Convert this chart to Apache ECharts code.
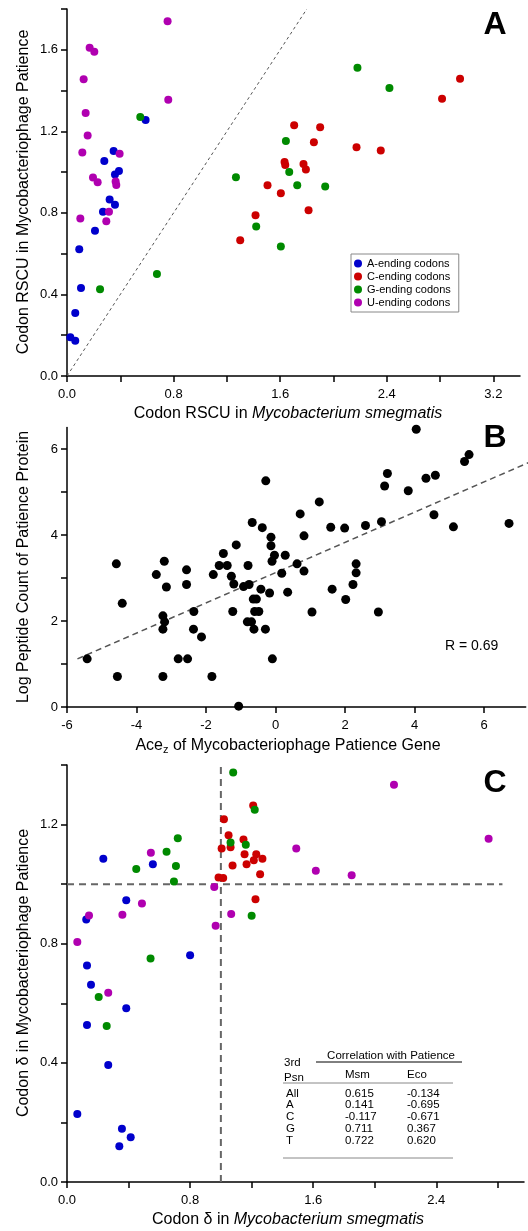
<!DOCTYPE html>
<html><head><meta charset="utf-8">
<script src="https://cdn.jsdelivr.net/npm/echarts@6/dist/echarts.min.js"></script>
<style>html,body{margin:0;padding:0;background:#fff}#c{width:528px;height:1231px}</style>
</head><body><div id="c"></div>
<script>
// ---------- Panel A: RSCU ----------
var rscuA = [[0.59,1.255],[0.35,1.104],[0.28,1.054],[0.39,1.006],[0.36,0.988],[0.32,0.866],[0.36,0.84],[0.27,0.806],[0.21,0.712],[0.092,0.622],[0.105,0.432],[0.062,0.309],[0.025,0.19],[0.062,0.173]];
var rscuC = [[1.705,1.23],[1.90,1.22],[1.853,1.147],[1.633,1.05],[1.638,1.035],[1.775,1.04],[1.793,1.013],[1.505,0.935],[1.605,0.896],[1.813,0.813],[1.415,0.788],[1.30,0.666],[2.173,1.122],[2.355,1.106],[2.815,1.36],[2.95,1.458]];
var rscuG = [[0.55,1.27],[2.18,1.512],[2.42,1.412],[1.643,1.152],[1.668,1.0],[1.728,0.936],[1.938,0.929],[1.268,0.975],[1.42,0.733],[1.605,0.635],[0.675,0.50],[0.248,0.425]];
var rscuU = [[0.755,1.74],[0.17,1.61],[0.205,1.59],[0.125,1.456],[0.76,1.355],[0.14,1.29],[0.155,1.18],[0.115,1.096],[0.395,1.09],[0.195,0.973],[0.23,0.95],[0.365,0.954],[0.37,0.937],[0.315,0.806],[0.10,0.772],[0.295,0.759]];
var diagA = [[0,0],[1.8,1.8]];
var xTicksA = [0,0.4,0.8,1.2,1.6,2.0,2.4,2.8,3.2];
var xLabelsA = [0,0.8,1.6,2.4,3.2];
var yTicksA = [0,0.2,0.4,0.6,0.8,1.0,1.2,1.4,1.6,1.8];
var yLabelsA = [0,0.4,0.8,1.2,1.6];
var legendNames = ['A-ending codons','C-ending codons','G-ending codons','U-ending codons'];

// ---------- Panel B: Ace_z vs log peptide count ----------
var aceB = [[-0.28,5.26],[-0.67,4.29],[-0.38,4.17],[-0.13,3.95],[-0.13,3.75],[-0.03,3.53],[-0.1,3.39],[0.28,3.53],[0.62,3.33],[0.71,4.49],[-1.13,3.77],[-1.5,3.57],[-1.62,3.29],[-1.39,3.29],[-0.79,3.29],[0.18,3.11],[-1.27,3.04],[-1.79,3.08],[-2.56,3.19],[-3.2,3.39],[-3.43,3.08],[-4.58,3.33],
[-2.56,2.85],[-3.14,2.79],[-4.41,2.41],[-1.2,2.86],[-0.92,2.8],[-0.76,2.85],[0.35,2.67],[-0.42,2.74],[-0.17,2.65],[-0.64,2.51],[-0.55,2.51],[-1.23,2.22],[-0.6,2.22],[-0.48,2.22],[-2.35,2.22],[-3.24,2.12],[-3.19,1.98],[-3.24,1.81],[-2.36,1.81],[-2.13,1.63],[-0.81,1.98],[-0.69,1.98],[-0.62,1.81],[-0.29,1.81],[-5.42,1.12],[-2.8,1.12],[-2.53,1.12],[-0.09,1.12],[-4.55,0.71],[-3.24,0.71],[-1.83,0.71],[-1.06,0.02],
[4.05,6.46],[5.57,5.87],[5.44,5.71],[3.22,5.43],[3.14,5.14],[4.33,5.32],[4.6,5.39],[3.82,5.03],[1.26,4.77],[0.82,3.98],[1.59,4.18],[1.99,4.16],[2.59,4.22],[3.05,4.31],[4.56,4.47],[5.12,4.19],[6.72,4.27],[0.82,3.16],[2.32,3.33],[2.32,3.12],[2.23,2.85],[1.63,2.74],[2.02,2.5],[1.05,2.21],[2.96,2.21]];
var fitB = [[-5.7,1.12],[7.27,5.68]];
var xTicksB = [-6,-4,-2,0,2,4,6];
var yTicksB = [0,1,2,3,4,5,6];
var yLabelsB = [0,2,4,6];

// ---------- Panel C: codon delta ----------
var deltaA = [[0.236,1.085],[0.558,1.067],[0.385,0.946],[0.125,0.881],[0.80,0.761],[0.13,0.727],[0.156,0.662],[0.385,0.583],[0.13,0.527],[0.268,0.393],[0.067,0.228],[0.357,0.179],[0.414,0.15],[0.34,0.12]];
var deltaC = [[1.21,1.264],[1.02,1.218],[1.05,1.164],[1.147,1.15],[1.005,1.12],[1.063,1.124],[1.154,1.10],[1.23,1.10],[1.214,1.08],[1.27,1.085],[1.076,1.063],[1.167,1.067],[1.255,1.033],[0.985,1.022],[1.015,1.021],[1.225,0.949]];
var deltaG = [[1.08,1.375],[1.22,1.25],[1.063,1.14],[1.162,1.132],[1.20,0.894],[0.72,1.154],[0.647,1.109],[0.708,1.061],[0.45,1.051],[0.695,1.009],[0.543,0.75],[0.206,0.621],[0.258,0.524]];
var deltaU = [[2.125,1.334],[2.74,1.152],[1.49,1.12],[1.617,1.045],[1.85,1.03],[0.957,0.99],[1.067,0.90],[0.966,0.86],[0.545,1.105],[0.487,0.935],[0.36,0.897],[0.143,0.895],[0.067,0.806],[0.268,0.635]];
var vRefC = [[1,0],[1,1.4]];
var hRefC = [[0,1],[2.83,1]];
var xTicksC = [0,0.4,0.8,1.2,1.6,2.0,2.4,2.8];
var xLabelsC = [0,0.8,1.6,2.4];
var yTicksC = [0,0.2,0.4,0.6,0.8,1.0,1.2,1.4];
var yLabelsC = [0,0.4,0.8,1.2];

// ---------- Table ----------
var tblPsn = ['All','A','C','G','T'];
var tblMsm = ['0.615','0.141','-0.117','0.711','0.722'];
var tblEco = ['-0.134','-0.695','-0.671','0.367','0.620'];

var FF = "'Liberation Sans', Arial, Helvetica, sans-serif";
var COLORS = ['#0000CC','#CC0000','#008A00','#B000B0'];

function axisX(grid, min, max, ticks, labels, fmt) {
  return {gridIndex: grid, type: 'value', min: min, max: max,
    axisLine: {show: true, onZero: false, lineStyle: {color: '#000', width: 1.5}},
    axisTick: {show: true, customValues: ticks, length: 6, lineStyle: {color: '#000', width: 1.5}},
    axisLabel: {customValues: labels, formatter: fmt, margin: 12, fontSize: 13, color: '#000', fontFamily: FF},
    splitLine: {show: false}};
}
function axisY(grid, min, max, ticks, labels, fmt) {
  return {gridIndex: grid, type: 'value', min: min, max: max,
    axisLine: {show: true, onZero: false, lineStyle: {color: '#000', width: 1.5}},
    axisTick: {show: true, customValues: ticks, length: 6, lineStyle: {color: '#000', width: 1.5}},
    axisLabel: {customValues: labels, formatter: fmt, margin: 9, fontSize: 13, color: '#000', fontFamily: FF},
    splitLine: {show: false}};
}
var f1 = function (v) { return Number(v).toFixed(1); };
var f0 = function (v) { return String(Math.round(v)); };

function scat(name, data, color, gi, size) {
  return {name: name, type: 'scatter', xAxisIndex: gi, yAxisIndex: gi, data: data, symbolSize: size,
    itemStyle: {color: color, opacity: 1}, silent: true};
}
function dline(data, gi, color, width, dash) {
  return {type: 'line', xAxisIndex: gi, yAxisIndex: gi, data: data, symbol: 'none', silent: true, clip: false,
    lineStyle: {color: color, width: width, type: dash}, z: 1};
}

var graphics = [];
function txt(x, y, text, opts) {
  var s = Object.assign({text: text, x: 0, y: 0, fontFamily: FF, fontSize: 13, fill: '#000', align: 'left', verticalAlign: 'middle'}, opts.style || {});
  graphics.push({type: 'text', x: x, y: y, rotation: opts.rotation || 0, style: s, silent: true});
}
function hline(x1, x2, y, color, w) {
  graphics.push({type: 'line', shape: {x1: x1, y1: y, x2: x2, y2: y}, style: {stroke: color, lineWidth: w}, silent: true});
}
// panel letters
txt(495, 25, 'A', {style: {fontSize: 32, fontWeight: 'bold', align: 'center'}});
txt(495, 438, 'B', {style: {fontSize: 32, fontWeight: 'bold', align: 'center'}});
txt(495, 783, 'C', {style: {fontSize: 32, fontWeight: 'bold', align: 'center'}});
// axis titles
var richN = {n: {fontSize: 16, fontFamily: FF, fill: '#000'}, i: {fontSize: 16, fontFamily: FF, fontStyle: 'italic', fill: '#000'},
  s: {fontSize: 11, fontFamily: FF, fill: '#000', verticalAlign: 'bottom', padding: [8, 0, 0, 0]}};
txt(288, 414, '{n|Codon RSCU in }{i|Mycobacterium smegmatis}', {style: {align: 'center', rich: richN}});
txt(24, 192, '{n|Codon RSCU in Mycobacteriophage Patience}', {rotation: Math.PI / 2, style: {align: 'center', rich: richN}});
txt(288, 746, '{n|Ace}{s|z}{n| of Mycobacteriophage Patience Gene}', {style: {align: 'center', rich: richN}});
txt(24, 567, '{n|Log Peptide Count of Patience Protein}', {rotation: Math.PI / 2, style: {align: 'center', rich: richN}});
txt(288, 1220, '{n|Codon δ in }{i|Mycobacterium smegmatis}', {style: {align: 'center', rich: richN}});
txt(24, 973, '{n|Codon δ in Mycobacteriophage Patience}', {rotation: Math.PI / 2, style: {align: 'center', rich: richN}});
// R value
txt(445, 646, 'R = 0.69', {style: {fontSize: 14}});
// table
txt(391, 1056, 'Correlation with Patience', {style: {fontSize: 11.5, align: 'center'}});
hline(316, 462, 1062, '#000', 1);
txt(284, 1063, '3rd', {style: {fontSize: 11.5}});
txt(284, 1078, 'Psn', {style: {fontSize: 11.5}});
txt(345, 1075, 'Msm', {style: {fontSize: 11.5}});
txt(407, 1075, 'Eco', {style: {fontSize: 11.5}});
hline(283, 453, 1083, '#888', 1);
var rowY = [1093.5, 1105, 1117, 1129, 1140.5];
for (var r = 0; r < tblPsn.length; r++) {
  txt(286, rowY[r], tblPsn[r], {style: {fontSize: 11.5}});
  txt(345, rowY[r], tblMsm[r], {style: {fontSize: 11.5}});
  txt(407, rowY[r], tblEco[r], {style: {fontSize: 11.5}});
}
hline(283, 453, 1158, '#888', 1);

var option = {
  animation: false,
  backgroundColor: '#fff',
  grid: [
    {left: 67, top: 9, width: 453, height: 367},
    {left: 67, top: 427.5, width: 458.7, height: 279.5},
    {left: 67, top: 765, width: 457, height: 417}
  ],
  xAxis: [
    axisX(0, 0, 3.4, xTicksA, xLabelsA, f1),
    axisX(1, -6, 7.2, xTicksB, xTicksB, f0),
    axisX(2, 0, 2.97, xTicksC, xLabelsC, f1)
  ],
  yAxis: [
    axisY(0, 0, 1.8, yTicksA, yLabelsA, f1),
    axisY(1, 0, 6.5, yTicksB, yLabelsB, f0),
    axisY(2, 0, 1.4, yTicksC, yLabelsC, f1)
  ],
  legend: {
    data: legendNames, left: 351, top: 254, orient: 'vertical', icon: 'circle',
    itemWidth: 8, itemHeight: 8, itemGap: 0, padding: [3, 8, 3, 3],
    borderColor: '#888', borderWidth: 1, backgroundColor: '#fff', selectedMode: false,
    textStyle: {fontSize: 11, color: '#000', fontFamily: FF, lineHeight: 13}
  },
  series: [
    dline(diagA, 0, '#555', 1, [3, 3]),
    scat(legendNames[0], rscuA, COLORS[0], 0, 8),
    scat(legendNames[1], rscuC, COLORS[1], 0, 8),
    scat(legendNames[2], rscuG, COLORS[2], 0, 8),
    scat(legendNames[3], rscuU, COLORS[3], 0, 8),
    dline(fitB, 1, '#555', 1.5, [6, 4]),
    scat('B', aceB, '#000', 1, 9),
    dline(vRefC, 2, '#666', 2, [7, 5]),
    dline(hRefC, 2, '#666', 2, [7, 5]),
    scat(legendNames[0], deltaA, COLORS[0], 2, 8),
    scat(legendNames[1], deltaC, COLORS[1], 2, 8),
    scat(legendNames[2], deltaG, COLORS[2], 2, 8),
    scat(legendNames[3], deltaU, COLORS[3], 2, 8)
  ],
  graphic: graphics
};
var chart = echarts.init(document.getElementById('c'), null, {renderer: 'canvas'});
chart.setOption(option);
</script></body></html>
